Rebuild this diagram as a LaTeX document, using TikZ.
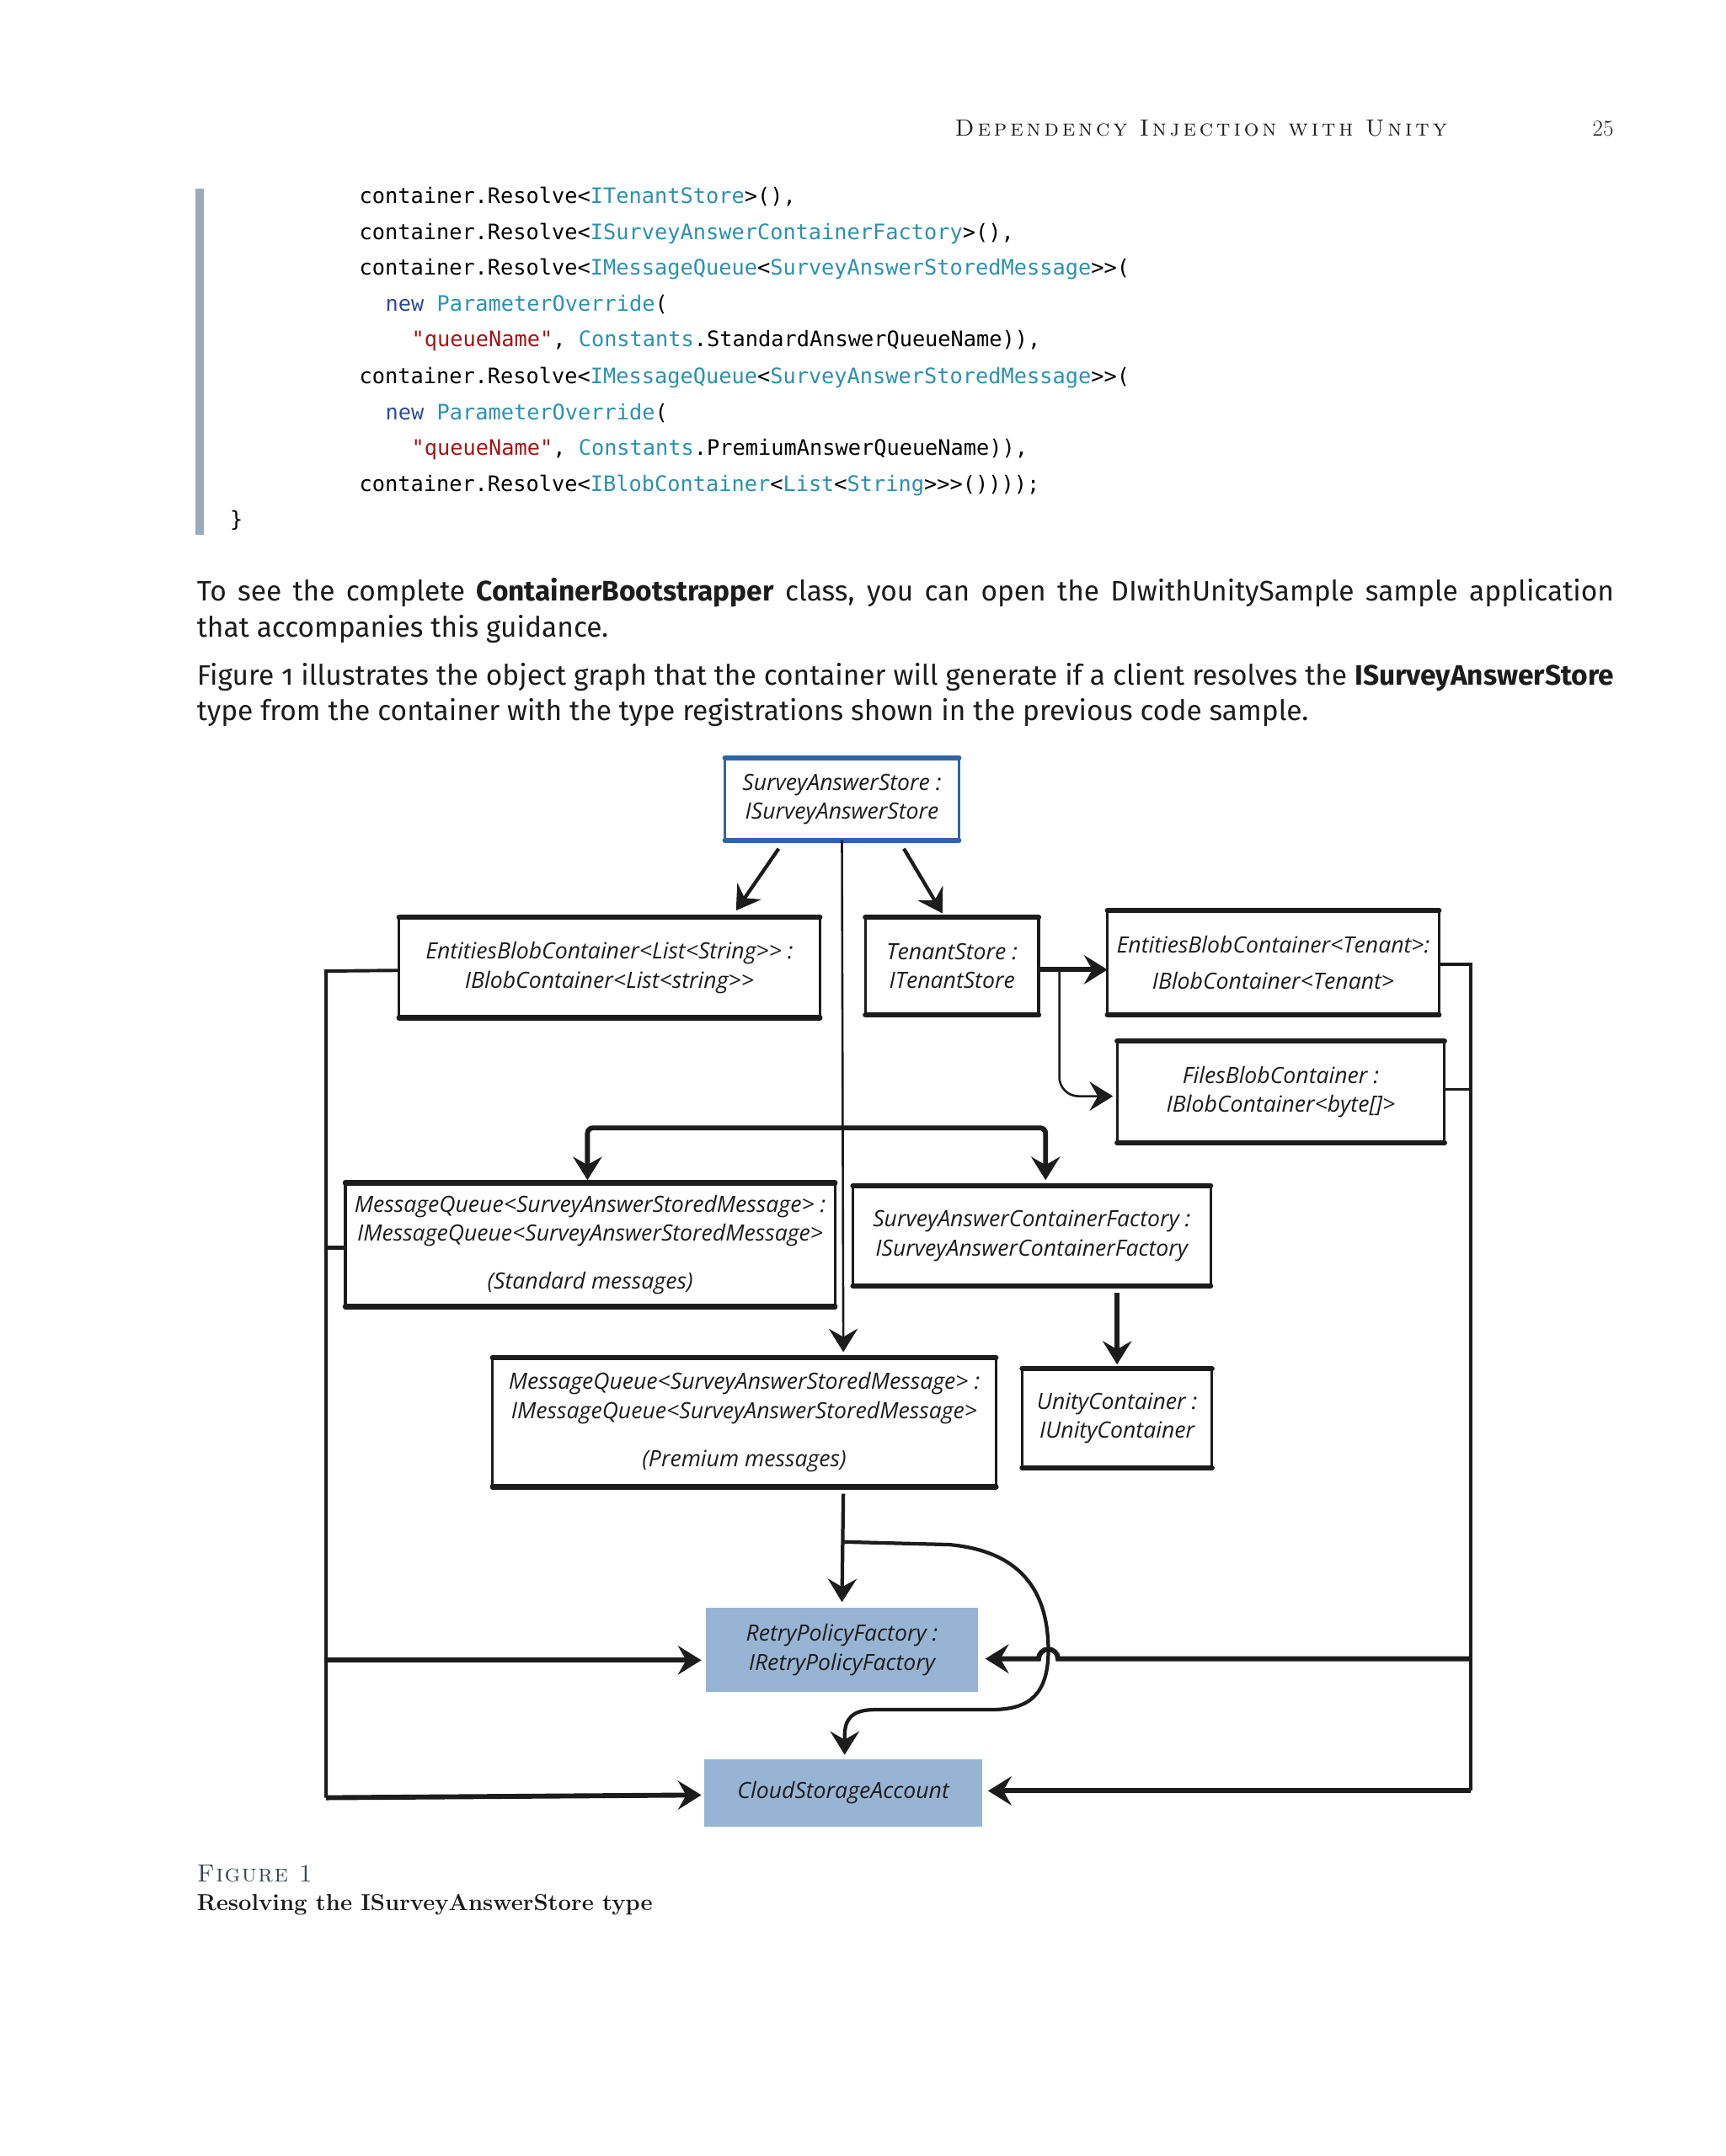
\documentclass[tikz,border=0pt]{standalone}
\usepackage{fontspec}
\usetikzlibrary{arrows.meta}
\newfontfamily\bodyfont{Fira Sans}[Numbers=OldStyle]
\newfontfamily\codefont{DejaVu Sans Mono}
\newfontfamily\diagfont{Open Sans}
\newfontfamily\hdrfont{lmromancaps10-regular.otf}[LetterSpace=14]
\newfontfamily\figfont{lmromancaps10-regular.otf}[LetterSpace=5]
\definecolor{ct}{HTML}{2B91AF}
\definecolor{ck}{HTML}{2E4C9A}
\definecolor{cs}{HTML}{A31515}
\definecolor{barc}{HTML}{9AAAB8}
\definecolor{boxblue}{HTML}{2F64A8}
\definecolor{fillblue}{HTML}{98B4D4}
\definecolor{ink}{HTML}{1C1C1C}
\definecolor{capc}{HTML}{3A4652}
\newcommand\tyc[1]{\textcolor{ct}{#1}}
\newcommand\kwc[1]{\textcolor{ck}{#1}}
\newcommand\stc[1]{\textcolor{cs}{#1}}
\begin{document}
\begin{tikzpicture}[x=1pt,y=-1pt,
  code/.style={anchor=base west, inner sep=0, font=\codefont\fontsize{15.5pt}{20pt}\selectfont},
  body/.style={anchor=base west, inner sep=0, text=ink, font=\bodyfont\fontsize{20.5pt}{26pt}\selectfont},
  obj/.style={draw=ink, line width=2pt, outer sep=0pt, align=center, inner sep=0, text=ink,
    font=\diagfont\itshape\fontsize{16.3pt}{21pt}\selectfont},
  fobj/.style={fill=fillblue, align=center, inner sep=0, text=ink,
    font=\diagfont\itshape\fontsize{16.3pt}{21pt}\selectfont},
  arr/.style={draw=ink, line width=2.6pt, -{Stealth[length=17pt,width=21pt,inset=6pt]}},
  arrthin/.style={draw=ink, line width=1.6pt, -{Stealth[length=17pt,width=21pt,inset=6pt]}},
  arrthick/.style={draw=ink, line width=3.6pt, -{Stealth[length=17pt,width=21pt,inset=6pt]}},
  bus/.style={draw=ink, line width=2.4pt},
  edgeline/.style={line width=3.8pt, line cap=round},
]
\useasboundingbox (0,0) rectangle (1254,1567.5);
\fill[white] (0,0) rectangle (1254,1567.5);

% header
\node[anchor=base east, inner sep=0, text=ink, font=\hdrfont\fontsize{17pt}{20pt}\selectfont] (hdr) at (1052,99) {Dependency Injection with Unity};
\node[anchor=base east, inner sep=0, text=ink, font=\fontsize{16.5pt}{18pt}\selectfont] (pg) at (1173,99) {25};

% code block
\fill[barc] (142,137) rectangle (148,389);
\node[code] (c1) at (261,148) {container.Resolve<\tyc{ITenantStore}>(),};
\node[code] (c2) at (261,174) {container.Resolve<\tyc{ISurveyAnswerContainerFactory}>(),};
\node[code] (c3) at (261,200) {container.Resolve<\tyc{IMessageQueue}<\tyc{SurveyAnswerStoredMessage}>>(};
\node[code] (c4) at (280,226) {\kwc{new} \tyc{ParameterOverride}(};
\node[code] (c5) at (299,252) {\stc{"queueName"}, \tyc{Constants}.StandardAnswerQueueName)),};
\node[code] (c6) at (261,279) {container.Resolve<\tyc{IMessageQueue}<\tyc{SurveyAnswerStoredMessage}>>(};
\node[code] (c7) at (280,305) {\kwc{new} \tyc{ParameterOverride}(};
\node[code] (c8) at (299,331) {\stc{"queueName"}, \tyc{Constants}.PremiumAnswerQueueName)),};
\node[code] (c9) at (261,357) {container.Resolve<\tyc{IBlobContainer}<\tyc{List}<\tyc{String}>>>())));};
\node[code] (c10) at (167,383) {\}};

% body text
\node[body] (p1) at (143,437) {\makebox[1030pt][s]{To see the complete \textbf{ContainerBootstrapper} class, you can open the DIwithUnitySample sample application}};
\node[body] (p2) at (143,463) {that accompanies this guidance.};
\node[body] (p3) at (143,498) {\makebox[1030pt][s]{Figure 1 illustrates the object graph that the container will generate if a client resolves the \textbf{ISurveyAnswerStore}}};
\node[body] (p4) at (143,524) {type from the container with the type registrations shown in the previous code sample.};

% diagram nodes
\node[obj, draw=boxblue, minimum width=170pt, minimum height=60pt] (sas) at (612,581) {SurveyAnswerStore :\\ISurveyAnswerStore};
\node[obj, minimum width=306pt, minimum height=73pt] (ebl) at (443,703.5) {EntitiesBlobContainer<List<String>> :\\IBlobContainer<List<string>>};
\node[obj, minimum width=126pt, minimum height=71pt] (ts) at (692,702.5) {TenantStore :\\ITenantStore};
\node[obj, minimum width=241pt, minimum height=76pt] (ebt) at (925.5,700) {EntitiesBlobContainer<Tenant>:\\[5pt]IBlobContainer<Tenant>};
\node[obj, minimum width=238pt, minimum height=74pt] (fbc) at (931,794) {FilesBlobContainer :\\IBlobContainer<byte[]>};
\node[obj, minimum width=356pt, minimum height=90pt] (mqs) at (429,905) {MessageQueue<SurveyAnswerStoredMessage> :\\IMessageQueue<SurveyAnswerStoredMessage>\\[14pt](Standard messages)};
\node[obj, minimum width=260pt, minimum height=73pt] (sacf) at (750,898.5) {SurveyAnswerContainerFactory :\\ISurveyAnswerContainerFactory};
\node[obj, minimum width=366pt, minimum height=94pt] (mqp) at (541,1034) {MessageQueue<SurveyAnswerStoredMessage> :\\IMessageQueue<SurveyAnswerStoredMessage>\\[14pt](Premium messages)};
\node[obj, minimum width=138pt, minimum height=72pt] (uc) at (812,1031) {UnityContainer :\\IUnityContainer};
\node[fobj, minimum width=198pt, minimum height=61pt] (rpf) at (612,1199.5) {RetryPolicyFactory :\\IRetryPolicyFactory};
\node[fobj, minimum width=202pt, minimum height=49pt] (csa) at (613,1303.5) {CloudStorageAccount};

% heavier top and bottom edges (sketch look)
\draw[edgeline, boxblue] (sas.north west) -- (sas.north east) (sas.south west) -- (sas.south east);
\foreach \n in {ebl,ts,ebt,fbc,mqs,sacf,mqp,uc}{
  \draw[edgeline, ink] (\n.north west) -- (\n.north east) (\n.south west) -- (\n.south east);
}

% coordinates
\coordinate (br) at (613,820);
\coordinate (j1) at (613,1121);
\coordinate (L1) at (237,706);
\coordinate (L2) at (237,1307);
\coordinate (L3) at (237,1207);
\coordinate (R1) at (1069,701);
\coordinate (R2) at (1069,1302);
\coordinate (R3) at (1069,1206);

% connectors from SurveyAnswerStore
\draw[arr] ([xshift=-46pt,yshift=-6pt]sas.south) -- ([xshift=92pt,yshift=5pt]ebl.north);
\draw[arr] ([xshift=45pt,yshift=-6pt]sas.south) -- ([xshift=-7pt,yshift=3pt]ts.north);
\draw[arrthin] (sas.south) -- ([xshift=72pt,yshift=4pt]mqp.north);
\draw[arrthick, rounded corners=4pt] (br) -| ([xshift=-2pt,yshift=2pt]mqs.north);
\draw[arrthick, rounded corners=4pt] (br) -| ([xshift=10pt,yshift=4pt]sacf.north);

% TenantStore connectors
\draw[arrthick] ([yshift=-2.5pt]ts.east) -- ([yshift=-2.5pt]ts.east -| ebt.west);
\draw[arrthin, rounded corners=14pt] ([xshift=15pt,yshift=-2.5pt]ts.east) |- ([xshift=-3pt,yshift=-3pt]fbc.west);

% factory -> unity
\draw[arrthick] ([xshift=62pt,yshift=-5pt]sacf.south) -- ([xshift=0pt,yshift=3pt]uc.north);

% premium queue -> retry, cloud
\draw[arr] ([xshift=72pt,yshift=-5pt]mqp.south) -- ([yshift=4pt]rpf.north);
\draw[arr] (j1) -- (690,1123) .. controls (745,1128) and (762,1160) .. (762,1200)
  .. controls (762,1235) and (745,1243) .. (720,1243) -- (636,1243)
  .. controls (619,1243) and (614,1250) .. (614,1262) -- ([xshift=1pt,yshift=3pt]csa.north);

% left bus
\draw[bus] ([yshift=-2pt]ebl.west) -- (L1) -- (L2);
\draw[bus, line width=3.4pt] (mqs.west |- 0,907) -- (L1 |- 0,907);
\draw[arrthick, shorten >=3pt] (L3) -- (rpf.west |- L3);
\draw[arrthick, shorten >=2pt] (L2) -- (csa.west |- 0,1305);

% right bus
\draw[bus] (ebt.east |- R1) -- (R1) -- (R2);
\draw[bus] (fbc.east |- 0,792) -- (R1 |- 0,792);
\draw[arrthick, shorten >=5pt] (R3) -- (769,1206) arc[start angle=0,end angle=180,radius=7pt] -- (rpf.east |- R3);
\draw[arrthick, shorten >=4pt] (R2) -- (csa.east |- R2);

% caption
\node[anchor=base west, inner sep=0, text=capc, font=\figfont\fontsize{18pt}{20pt}\selectfont] (figl) at (143,1368) {Figure 1};
\node[anchor=base west, inner sep=0, text=ink, font=\bfseries\fontsize{16.8pt}{20pt}\selectfont] (figc) at (143,1389) {Resolving the ISurveyAnswerStore type};
\end{tikzpicture}
\end{document}
